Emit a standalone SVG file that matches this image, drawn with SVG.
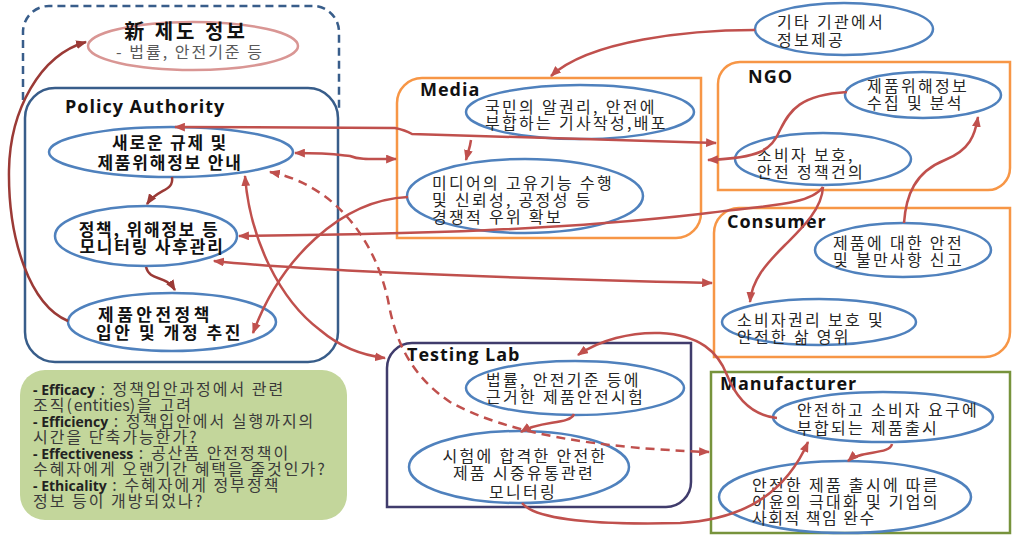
<svg xmlns="http://www.w3.org/2000/svg" width="1013" height="535" viewBox="0 0 1013 535">
<style>
.kr{font-family:"Noto Sans CJK KR","Noto Sans",sans-serif;font-size:16px;fill:#262626;letter-spacing:2.3px}
.pb{font-family:"Noto Sans CJK KR","Noto Sans",sans-serif;font-size:17px;font-weight:bold;fill:#111;letter-spacing:1.8px}
.hd{font-family:"Open Sans","Noto Sans CJK KR",sans-serif;font-size:18px;font-weight:bold;fill:#111;letter-spacing:1px}
.gt{font-family:"Noto Sans CJK KR","Noto Sans",sans-serif;font-size:16px;fill:#3a3a3a;letter-spacing:2px}
.gb{font-family:"Open Sans","Noto Sans CJK KR",sans-serif;font-size:14px;font-weight:bold;fill:#222;letter-spacing:0}
.el{fill:none;stroke:#4f81bd;stroke-width:2.5}
.or{fill:none;stroke:#f79646;stroke-width:2.5}
.cn{fill:none;stroke:#c0504d;stroke-width:2.5}
.cd{fill:none;stroke:#9b3a36;stroke-width:2.5}
</style>
<defs>
<marker id="ah" viewBox="0 0 10 8" refX="9" refY="4" markerWidth="11" markerHeight="9" markerUnits="userSpaceOnUse" orient="auto-start-reverse"><path d="M0,0 L10,4 L0,8 z" fill="#c0504d"/></marker>
<marker id="ahd" viewBox="0 0 10 8" refX="9" refY="4" markerWidth="11" markerHeight="9" markerUnits="userSpaceOnUse" orient="auto-start-reverse"><path d="M0,0 L10,4 L0,8 z" fill="#9b3a36"/></marker>
</defs>

<g id="new-system">
<path d="M23,100 V32 A26,26 0 0 1 49,6 H313 A26,26 0 0 1 339,32 V112" fill="none" stroke="#385d8a" stroke-width="2.5" stroke-dasharray="8,5"/>
<ellipse cx="193" cy="46" rx="105" ry="24" fill="none" stroke="#d99694" stroke-width="2.5"/>
<text font-family="'Noto Sans CJK KR',sans-serif" text-anchor="middle"><tspan x="186" y="39" font-size="20" font-weight="bold" fill="#111" letter-spacing="3">新 제도 정보</tspan><tspan x="190" y="58" font-size="16" fill="#595959" letter-spacing="2">- 법률, 안전기준 등</tspan></text>
</g>

<g id="policy-authority">
<rect x="25" y="88" width="313" height="274" rx="30" fill="none" stroke="#385d8a" stroke-width="2.5"/>
<text class="hd" x="65" y="113">Policy Authority</text>
</g>
<g id="pa-guide">
<ellipse class="el" cx="171" cy="152" rx="122" ry="25"/>
<text class="pb" text-anchor="middle"><tspan x="170" y="149">새로운 규제 및</tspan><tspan x="170" y="169">제품위해정보 안내</tspan></text>
</g>
<g id="pa-monitor">
<ellipse class="el" cx="146" cy="236" rx="91" ry="30"/>
<text class="pb" text-anchor="middle"><tspan x="149" y="236">정책, 위해정보 등</tspan><tspan x="152" y="253">모니터링 사후관리</tspan></text>
</g>
<g id="pa-policy">
<ellipse class="el" cx="172" cy="322" rx="104" ry="29"/>
<text class="pb"><tspan x="98" y="321" letter-spacing="3.5">제품안전정책</tspan><tspan x="96" y="339" letter-spacing="2.6">입안 및 개정 추진</tspan></text>
</g>

<g id="criteria">
<rect x="20" y="370" width="327" height="150" rx="25" fill="#c3d69b"/>
<text class="gt"><tspan x="33" y="395" class="gb">- Efficacy</tspan><tspan> : 정책입안과정에서 관련</tspan><tspan x="33" y="411">조직(</tspan><tspan letter-spacing="0">entities</tspan><tspan>)을 고려</tspan><tspan x="33" y="427" class="gb">- Efficiency</tspan><tspan> : 정책입안에서 실행까지의</tspan><tspan x="33" y="443">시간을 단축가능한가?</tspan><tspan x="33" y="459" class="gb">- Effectiveness</tspan><tspan> : 공산품 안전정책이</tspan><tspan x="33" y="475">수혜자에게 오랜기간 혜택을 줄것인가?</tspan><tspan x="33" y="491" class="gb">- Ethicality</tspan><tspan> :  수혜자에게 정부정책</tspan><tspan x="33" y="507">정보 등이 개방되었나?</tspan></text>
</g>

<g id="media">
<path class="or" d="M422,78 H701 V213 A25,25 0 0 1 676,238 H397 V103 A25,25 0 0 1 422,78 Z"/>
<text class="hd" x="420" y="96" letter-spacing="1.5">Media</text>
</g>
<g id="media-report">
<ellipse class="el" cx="580" cy="112" rx="114" ry="27"/>
<text class="kr" letter-spacing="1.2"><tspan x="485" y="113">국민의 알권리, 안전에</tspan><tspan x="485" y="129">부합하는 기사작성,배포</tspan></text>
</g>
<g id="media-function">
<ellipse class="el" cx="525" cy="196" rx="118" ry="37"/>
<text class="kr" letter-spacing="2"><tspan x="432" y="189">미디어의 고유기능 수행</tspan><tspan x="432" y="206">및 신뢰성, 공정성 등</tspan><tspan x="432" y="223">경쟁적 우위 확보</tspan></text>
</g>

<g id="other-agency">
<ellipse class="el" cx="844" cy="29" rx="89" ry="26"/>
<text class="kr" letter-spacing="2.5"><tspan x="777" y="28">기타 기관에서</tspan><tspan x="777" y="46">정보제공</tspan></text>
</g>

<g id="ngo">
<path class="or" d="M740,62 H1010 V168 A22,22 0 0 1 988,190 H718 V84 A22,22 0 0 1 740,62 Z"/>
<text class="hd" x="748" y="83">NGO</text>
</g>
<g id="ngo-collect">
<ellipse class="el" cx="923" cy="95" rx="78" ry="23"/>
<text class="kr" letter-spacing="2.5"><tspan x="867" y="92">제품위해정보</tspan><tspan x="867" y="109">수집 및 분석</tspan></text>
</g>
<g id="ngo-propose">
<ellipse class="el" cx="823" cy="159" rx="88" ry="26"/>
<text class="kr" letter-spacing="2.5"><tspan x="757" y="161">소비자 보호,</tspan><tspan x="757" y="178">안전 정책건의</tspan></text>
</g>

<g id="consumer">
<path class="or" d="M739,208 H1010 V332 A25,25 0 0 1 985,357 H714 V233 A25,25 0 0 1 739,208 Z"/>
<text class="hd" x="727" y="228">Consumer</text>
</g>
<g id="consumer-report">
<ellipse class="el" cx="903" cy="250" rx="88" ry="27"/>
<text class="kr" letter-spacing="2.5"><tspan x="833" y="249">제품에 대한 안전</tspan><tspan x="833" y="266">및 불만사항 신고</tspan></text>
</g>
<g id="consumer-rights">
<ellipse class="el" cx="819" cy="322" rx="97" ry="23"/>
<text class="kr" letter-spacing="2.3"><tspan x="737" y="326">소비자권리 보호 및</tspan><tspan x="737" y="343">안전한 삶 영위</tspan></text>
</g>

<g id="testing-lab">
<path d="M412,343 H691 V482 A25,25 0 0 1 666,507 H387 V368 A25,25 0 0 1 412,343 Z" fill="none" stroke="#403c6c" stroke-width="2.5"/>
<text class="hd" x="407" y="361" letter-spacing="0.5">Testing Lab</text>
</g>
<g id="tl-test">
<ellipse class="el" cx="575" cy="388" rx="109" ry="27"/>
<text class="kr" letter-spacing="2.3"><tspan x="486" y="386">법률, 안전기준 등에</tspan><tspan x="486" y="403">근거한 제품안전시험</tspan></text>
</g>
<g id="tl-monitor">
<ellipse class="el" cx="519" cy="467" rx="110" ry="36"/>
<text class="kr" text-anchor="middle" letter-spacing="2.8"><tspan x="525" y="462">시험에 합격한 안전한</tspan><tspan x="524" y="479">제품 시중유통관련</tspan><tspan x="523" y="498">모니터링</tspan></text>
</g>

<g id="manufacturer">
<rect x="711" y="372" width="299" height="161" fill="none" stroke="#77933c" stroke-width="2.5"/>
<text class="hd" x="720" y="390">Manufacturer</text>
</g>
<g id="mf-release">
<ellipse class="el" cx="883" cy="417" rx="110" ry="25"/>
<text class="kr" letter-spacing="2.2"><tspan x="797" y="416">안전하고 소비자 요구에</tspan><tspan x="797" y="434">부합되는 제품출시</tspan></text>
</g>
<g id="mf-profit">
<ellipse class="el" cx="845" cy="497" rx="126" ry="36"/>
<text class="kr" letter-spacing="2.2"><tspan x="752" y="491">안전한 제품 출시에 따른</tspan><tspan x="752" y="508">이윤의 극대화 및 기업의</tspan><tspan x="752" y="524" letter-spacing="1.5">사회적 책임 완수</tspan></text>
</g>

<g id="connectors">
<path class="cd" d="M68,321 C30,305 8,240 9,170 C10,110 40,55 86,42" marker-end="url(#ahd)"/>
<path class="cd" d="M172,177 C174,192 158,188 147,204" marker-end="url(#ahd)"/>
<path class="cd" d="M146,267 C150,282 165,274 175,290" marker-end="url(#ahd)"/>
<path class="cn" d="M175,127 L395,128 Q405,130 412,134 L716,143" marker-start="url(#ah)" marker-end="url(#ah)"/>
<path class="cn" d="M295,153 C330,153 340,155 350,156 C360,160 370,159 396,159" marker-start="url(#ah)" marker-end="url(#ah)"/>
<path class="cn" d="M270,172 C335,185 375,240 388,300 C395,340 410,375 450,402 C510,435 600,448 709,452" stroke-dasharray="9,6" marker-start="url(#ah)" marker-end="url(#ah)"/>
<path class="cn" d="M245,176 C250,240 280,300 320,330 C340,347 360,355 385,358" marker-start="url(#ah)" marker-end="url(#ah)"/>
<path class="cn" d="M408,197 C340,200 280,260 253,333" marker-end="url(#ah)"/>
<path class="cn" d="M823,187 C810,205 770,205 700,214 C560,230 420,234 239,236" marker-end="url(#ah)"/>
<path class="cn" d="M823,187 C822,210 800,230 785,245 C765,265 752,280 750,302" marker-end="url(#ah)"/>
<path class="cn" d="M214,261 C300,270 500,278 712,283" marker-start="url(#ah)" marker-end="url(#ah)"/>
<path class="cn" d="M904,223 C906,195 915,172 945,160 C970,150 975,135 978,117" marker-end="url(#ah)"/>
<path class="cn" d="M847,92 C800,95 790,110 780,130 C772,150 760,158 708,160" marker-end="url(#ah)"/>
<path class="cn" d="M471,140 C470,148 468,152 466,160" marker-end="url(#ah)"/>
<path class="cn" d="M755,30 C690,30 590,40 551,76" marker-end="url(#ah)"/>
<path class="cn" d="M574,414 C570,425 540,420 521,432" marker-end="url(#ah)"/>
<path class="cn" d="M777,418 C750,415 735,395 727,375 C718,352 700,335 660,333 C630,332 600,340 578,355" marker-end="url(#ah)"/>
<path class="cn" d="M522,503 C535,520 600,525 680,523 C740,520 785,495 808,442" marker-end="url(#ah)"/>
<path class="cn" d="M892,444 C890,455 860,450 848,461" marker-end="url(#ah)"/>
</g>
</svg>
